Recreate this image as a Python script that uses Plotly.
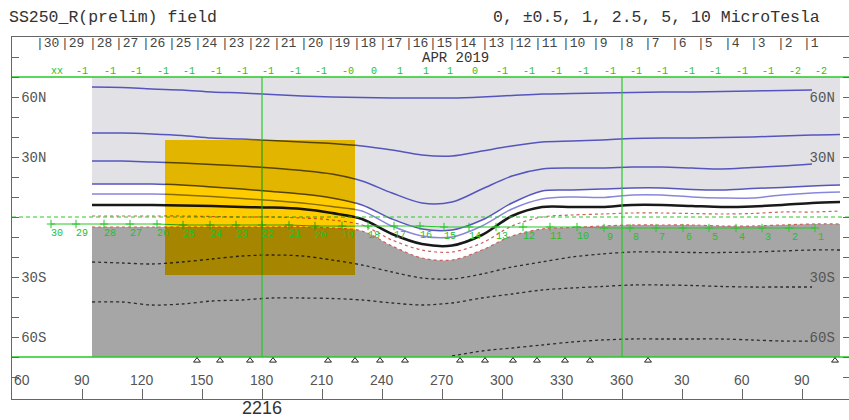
import plotly.graph_objects as go

W, H = 849, 420

# ---------------- data ----------------
# Carrington longitude (unwrapped: 360 is followed by 30, 60, 90 ...)
lon = [95, 110, 125, 140, 155, 170, 185, 200, 215, 230, 245, 260, 275,
       290, 305, 320, 335, 350, 365, 380, 395, 410, 425, 440, 455, 469]

# positive-field contours (north), latitude in degrees
pos_c5 = [65, 64.75, 64, 63.5, 62.5, 62, 61.25, 60.5, 60, 59.75, 59.5, 59.5, 59.5,
          60, 60.75, 61.5, 61.75, 62, 62.25, 62.5, 62.5, 62.75, 63, 63.25, 63.5, None]
pos_c4 = [42, 42, 41.5, 40.75, 39.5, 39, 38.25, 37.5, 36.75, 35.5, 33.5, 31, 30.5,
          33, 35.5, 37.5, 38, 38.5, 39.25, 39.5, 39.5, 39.75, 40, 40.5, 41, 41.25]
pos_c3 = [28, 28, 27.5, 27, 26.25, 25.5, 24.5, 23.25, 21.5, 18, 12, 7, 7.5,
          14, 20.5, 24, 24.5, 24.5, 25, 25, 24.5, 24, 24.75, 25.5, 26.5, None]
pos_c2 = [16.5, 16.5, 16.5, 16, 15, 14, 12.75, 11.5, 9.5, 6, -1, -6, -6.5,
          -1.5, 7, 13, 13.5, 14, 14.5, 14.5, 13.75, 13.5, 14.25, 14.75, 15.5, 16]
pos_c1 = [11.5, 11.5, 11.5, 11, 10.25, 9.25, 8.25, 7, 5.25, 3, -4.5, -9.5, -10,
          -4.5, 4, 9, 10, 9.75, 11, 11, 10, 9.5, 9.5, 11, 12, 12.5]
neutral = [6, 6, 6, 5.75, 5.5, 5, 4.75, 4, 2, -1, -8.5, -13.5, -14.25,
           -9, 0.5, 5, 5, 5, 6, 6, 5.5, 5, 5.25, 6, 7, 7.5]
# negative-field contours (south)
neg_c1 = [0.5, 0.5, 0.5, 0.5, 0.25, 0, 0, -0.5, -1.5, -4, -11.5, -16.5, -17.5,
          -13, -4.5, 0, 1, 1.5, 2, 2, 1.75, 1.5, 1.75, 2.5, 2.5, 3]
neg_c2 = [-5, -5, -5, -5, -5, -5, -5, -5, -5.5, -7, -14.5, -20.5, -21.5,
          -16.5, -9.5, -6, -5.25, -4.5, -4, -4, -4, -4.5, -4.5, -4, -3.5, -3.5]
neg_c3 = [-22.5, -23, -23.5, -22.5, -21, -19.5, -19, -19.5, -21.5, -24, -27.5, -30.5, -31,
          -28.5, -25, -22.5, -20, -18.5, -17.5, -17.5, -17.75, -17.75, -17.5, -17, -16.5, -16.5]
neg_c4 = [-42.5, -42.5, -44, -43.5, -42, -41.5, -40.5, -40.5, -40.75, -41.5, -43, -44, -43,
          -40.5, -38.5, -36.5, -35.5, -34.75, -34, -34, -34.25, -34.75, -35, -35, -35, None]
neg_c5 = [None, None, None, None, None, None, None, None, None, None, None, None, -69.5,
          -67, -65.5, -64, -62.5, -61.5, -61, -61, -61, -61, -61.5, -62, -62, None]

lat_top, lat_bot = 70, -70

# highlighted box (lon, lat)
box_lon = [131.5, 226.5]
box_lat = [-29, 38.5]

green_lon = [180, 360]

lon_tickvals = [60, 90, 120, 150, 180, 210, 240, 270, 300, 330, 360, 390, 420, 450]
lon_ticktext = ["60", "90", "120", "150", "180", "210", "240", "270", "300", "330",
                "360", "30", "60", "90"]
lat_tickvals = [-80, -70, -60, -50, -40, -30, -20, -10, 0, 10, 20, 30, 40, 50, 60, 70, 80]
lat_ticktext = ["", "", "60S", "", "", "30S", "", "", "", "", "", "30N", "", "", "60N", "", ""]

days = [30, 29, 28, 27, 26, 25, 24, 23, 22, 21, 20, 19, 18, 17, 16,
        15, 14, 13, 12, 11, 10, 9, 8, 7, 6, 5, 4, 3, 2, 1]
day_lon = [74.5, 87, 101, 114, 127.5, 140.5, 154, 167, 180, 193.5, 206.5, 220, 233, 246, 259,
           271, 283.5, 297, 310.5, 324, 337.5, 351, 364, 377, 390.5, 403.5, 417, 430, 443.5, 456.5]
polarity = ["xx", "-1", "-1", "-1", "-1", "-1", "-1", "-1", "-1", "-1", "-1", "-0", "0", "1", "1",
            "1", "0", "-1", "-1", "-1", "-1", "-1", "-1", "-1", "-1", "-1", "-1", "-1", "-2", "-2"]
track_lat = [-3.5, -3.5, -3.5, -3.5, -3.5, -4, -4, -4, -4, -4, -4.5, -4.5, -4.5, -4.5, -4.5,
             -5, -5, -5, -5, -5, -5, -5.5, -5.5, -5.5, -5.5, -5.5, -5.5, -5.5, -5.5, -5.5]
tri_lon = [147.5, 159, 174, 185.5, 213, 226.5, 239, 251.5, 279, 291.5, 305.5, 317.5,
           331.5, 344, 373, 466.5]

# ---------------- styles ----------------
LIGHT = (226, 226, 230)
DARK = (166, 166, 166)
YEL = (255, 204, 0)
BLUE = (85, 85, 190)
BLUE_L = (135, 135, 220)
BLACK = (25, 25, 25)
RED = (205, 95, 95)
DOT = (45, 45, 45)
GREEN = (40, 200, 40)

MONO = "Liberation Mono"
SANS = "Liberation Sans"


def rgb(c):
    return "rgb(%d,%d,%d)" % c


def mult(c):
    return tuple(round(a * b / 255) for a, b in zip(c, YEL))


fig = go.Figure()
n = len(lon)
x_range = [55, 473.5]


def draw(xa, ya, tint):
    col = (lambda c: rgb(mult(c))) if tint else (lambda c: rgb(c))
    kw = dict(xaxis=xa, yaxis=ya, showlegend=False, hoverinfo="skip")
    if tint:
        fig.add_trace(go.Scatter(
            x=[box_lon[0], box_lon[1], box_lon[1], box_lon[0], box_lon[0]],
            y=[box_lat[0], box_lat[0], box_lat[1], box_lat[1], box_lat[0]],
            mode="lines", line=dict(width=0), fill="toself", fillcolor=rgb(YEL), **kw))
    # light (positive) region
    fig.add_trace(go.Scatter(x=lon, y=[lat_top] * n, mode="lines", line=dict(width=0), **kw))
    fig.add_trace(go.Scatter(x=lon, y=pos_c2, mode="lines", line=dict(width=0, shape="spline"),
                             fill="tonexty", fillcolor=col(LIGHT), **kw))
    # dark (negative) region
    fig.add_trace(go.Scatter(x=lon, y=neg_c2, mode="lines", line=dict(width=0, shape="spline"), **kw))
    fig.add_trace(go.Scatter(x=lon, y=[lat_bot] * n, mode="lines", line=dict(width=0),
                             fill="tonexty", fillcolor=col(DARK), **kw))
    # contours
    for ys, c, w, dash in [
        (pos_c5, BLUE, 1.5, "solid"), (pos_c4, BLUE, 1.5, "solid"), (pos_c3, BLUE, 1.5, "solid"),
        (pos_c2, BLUE, 1.5, "solid"), (pos_c1, BLUE_L, 1.5, "solid"),
        (neutral, BLACK, 2.5, "solid"),
        (neg_c1, RED, 1.2, "dot"), (neg_c2, RED, 1.2, "dot"),
        (neg_c3, DOT, 1.3, "dot"), (neg_c4, DOT, 1.3, "dot"), (neg_c5, DOT, 1.3, "dot"),
    ]:
        fig.add_trace(go.Scatter(x=lon, y=ys, mode="lines", connectgaps=False,
                                 line=dict(color=col(c), width=w, dash=dash, shape="spline",
                                           smoothing=0.9), **kw))
    # green reference lines
    fig.add_trace(go.Scatter(x=x_range, y=[0, 0], mode="lines",
                             line=dict(color=col(GREEN), width=1, dash="4px,3px"), **kw))
    fig.add_trace(go.Scatter(x=day_lon, y=track_lat, mode="lines+markers",
                             line=dict(color=col(GREEN), width=1),
                             marker=dict(symbol="cross-thin", size=6, color=col(GREEN),
                                         line=dict(color=col(GREEN), width=1)), **kw))
    for gl in green_lon:
        fig.add_trace(go.Scatter(x=[gl, gl], y=[lat_bot, lat_top], mode="lines",
                                 line=dict(color=col(GREEN), width=1.2), **kw))
    fig.add_trace(go.Scatter(x=x_range, y=[lat_top, lat_top], mode="lines",
                             line=dict(color=col(GREEN), width=1.3), **kw))
    fig.add_trace(go.Scatter(x=x_range, y=[lat_bot, lat_bot], mode="lines",
                             line=dict(color=col(GREEN), width=1.3), **kw))


draw("x", "y", False)
draw("x3", "y3", True)

# footprint markers below the map
fig.add_trace(go.Scatter(x=tri_lon, y=[-71.8] * len(tri_lon), mode="markers",
                         marker=dict(symbol="triangle-up-open", size=6, color="#222",
                                     line=dict(color="#222", width=1)),
                         showlegend=False, hoverinfo="skip"))
# dummy for right axis
fig.add_trace(go.Scatter(x=[None], y=[None], xaxis="x", yaxis="y2", showlegend=False))

ann = []
ann.append(dict(text="SS250_R(prelim) field", xref="paper", yref="paper", x=7 / W, y=(H - 18) / H,
                xanchor="left", yanchor="middle", showarrow=False,
                font=dict(family=MONO, size=16.5, color="#333")))
ann.append(dict(text="0, \u00b10.5, 1, 2.5, 5, 10 MicroTesla", xref="paper", yref="paper",
                x=491 / W, y=(H - 18) / H, xanchor="left", yanchor="middle", showarrow=False,
                font=dict(family=MONO, size=16.5, color="#333")))
ann.append(dict(text="APR 2019", x=276.5, y=79.6, xref="x", yref="y", showarrow=False,
                font=dict(family=MONO, size=14, color="#333")))
ann.append(dict(text="2216", x=180, y=(H - 408) / H, xref="x", yref="paper", showarrow=False,
                yanchor="middle", font=dict(family=SANS, size=18, color="#333")))
for tv, tt in zip(lon_tickvals, lon_ticktext):
    ann.append(dict(text=tt, x=tv, y=-81.5, xref="x", yref="y", showarrow=False,
                    font=dict(family=SANS, size=14, color="#555")))
for d, dl, p, tl in zip(days, day_lon, polarity, track_lat):
    ann.append(dict(text="|%d" % d, x=dl, y=86.8, xref="x", yref="y", showarrow=False,
                    xshift=-4, font=dict(family=MONO, size=13, color="#444")))
    ann.append(dict(text=p, x=dl, y=72.6, xref="x", yref="y", showarrow=False, xshift=6,
                    font=dict(family=MONO, size=10, color="rgb(40,190,40)")))
    ann.append(dict(text=str(d), x=dl, y=tl, xref="x", yref="y", showarrow=False, xshift=6,
                    yshift=-9, font=dict(family=MONO, size=10, color="rgb(40,190,40)")))

axis_common = dict(showgrid=False, zeroline=False)
fig.update_layout(
    width=W, height=H, margin=dict(l=0, r=0, t=0, b=0),
    paper_bgcolor="white", plot_bgcolor="white", showlegend=False,
    xaxis=dict(domain=[12 / W, 1], range=x_range, showline=True, linecolor="#666", linewidth=1,
               mirror=True, ticks="inside", ticklen=10, tickcolor="#666",
               tickvals=lon_tickvals, showticklabels=False, **axis_common),
    yaxis=dict(domain=[(H - 399) / H, (H - 37) / H], range=[-91, 90], showline=True,
               linecolor="#666", linewidth=1, ticks="inside", ticklen=7, tickcolor="#666",
               tickvals=lat_tickvals, ticktext=lat_ticktext, ticklabelposition="inside",
               ticklabelstandoff=2,
               tickfont=dict(family=MONO, size=14, color="#555"), **axis_common),
    yaxis2=dict(overlaying="y", side="right", anchor="x", range=[-91, 90], showline=False,
                ticks="inside", ticklen=6, tickcolor="#666", tickvals=lat_tickvals,
                ticktext=lat_ticktext, ticklabelposition="inside", ticklabelstandoff=8,
                tickfont=dict(family=MONO, size=14, color="#555"), **axis_common),
    xaxis3=dict(domain=[165 / W, 355 / W], range=box_lon, visible=False, anchor="y3",
                **axis_common),
    yaxis3=dict(domain=[(H - 275) / H, (H - 140) / H], range=box_lat, visible=False,
                anchor="x3", **axis_common),
    annotations=ann,
)

fig.write_html("out.html")
